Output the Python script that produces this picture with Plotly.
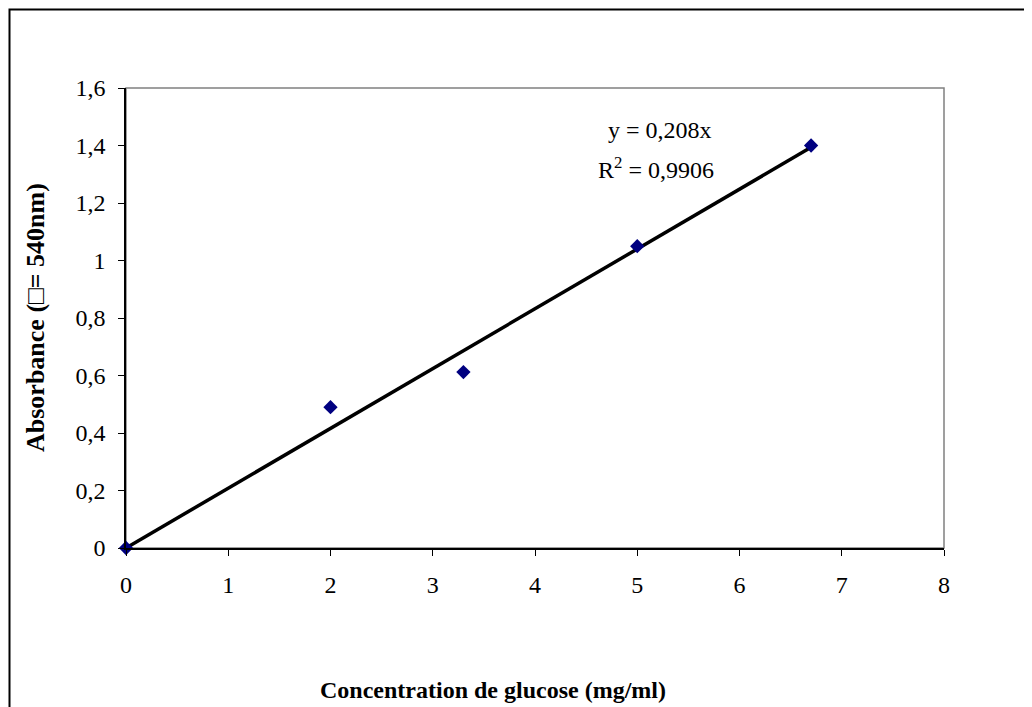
import plotly.graph_objects as go

# Data
concentration = [0, 2, 3.3, 5, 6.7]
absorbance = [0.0, 0.49, 0.612, 1.05, 1.40]
slope = 0.208
r2_text = "0,9906"
fit_x = [0, 6.7]
fit_y = [slope * v for v in fit_x]

x_title = "Concentration de glucose (mg/ml)"
y_title = "Absorbance (\u25a1= 540nm)"

OFF = 8  # default page body margin
W, H = 1032 - OFF, 707 - OFF
L, T = 126 - OFF, 88 - OFF
R = W - (944 - OFF)
B = H - (548 - OFF)
pw, ph = W - L - R, H - T - B

def px_x(p):
    return (p - OFF - L) / pw

def px_y(p):
    return (H - B - (p - OFF)) / ph

font = dict(family="Liberation Serif, Times New Roman, serif", size=24, color="black")
ytitle_font = dict(family="Liberation Serif, Times New Roman, serif", size=26, color="black")

fig = go.Figure()
fig.add_trace(go.Scatter(x=fit_x, y=fit_y, mode="lines",
                         line=dict(color="black", width=3.5),
                         showlegend=False, hoverinfo="skip"))
fig.add_trace(go.Scatter(x=concentration, y=absorbance, mode="markers",
                         marker=dict(symbol="diamond", color="#000080", size=11,
                                     line=dict(width=0)),
                         cliponaxis=False, showlegend=False))

fig.update_layout(
    width=W, height=H,
    margin=dict(l=L, r=R, t=T, b=B),
    paper_bgcolor="white", plot_bgcolor="white",
    separators=",.",
    font=font,
    xaxis=dict(range=[0, 8], dtick=1, tick0=0, showgrid=False, zeroline=False,
               showline=True, linecolor="black", linewidth=1.5,
               ticks="outside", ticklen=6, tickcolor="black", tickwidth=1,
               ticklabelstandoff=8, tickfont=font),
    yaxis=dict(range=[0, 1.6], dtick=0.2, tick0=0, showgrid=False, zeroline=False,
               showline=True, linecolor="black", linewidth=1.5,
               ticks="outside", ticklen=6, tickcolor="black", tickwidth=1,
               ticklabelstandoff=8, tickfont=font, tickformat=".1~f"),
    shapes=[
        dict(type="rect", xref="paper", yref="paper", x0=0, x1=1, y0=0, y1=1,
             line=dict(color="#808080", width=1.5), layer="below"),
        dict(type="rect", xref="paper", yref="paper",
             x0=px_x(9.5), x1=px_x(1045), y0=px_y(720), y1=px_y(9.5),
             line=dict(color="black", width=2), layer="below"),
    ],
    annotations=[
        dict(text="y = 0,208x", xref="paper", yref="paper",
             x=px_x(660), y=px_y(130), showarrow=False, font=font,
             xanchor="center", yanchor="middle"),
        dict(text="R<sup>2</sup> = " + r2_text, xref="paper", yref="paper",
             x=px_x(656), y=px_y(168), showarrow=False, font=font,
             xanchor="center", yanchor="middle"),
        dict(text="<b>" + x_title + "</b>", xref="paper", yref="paper",
             x=px_x(493), y=px_y(690), showarrow=False, font=font,
             xanchor="center", yanchor="middle"),
        dict(text="<b>" + y_title + "</b>", xref="paper", yref="paper",
             x=px_x(35), y=px_y(318), showarrow=False, font=ytitle_font, textangle=-90,
             xanchor="center", yanchor="middle"),
    ],
)

fig.write_html("out.html")
